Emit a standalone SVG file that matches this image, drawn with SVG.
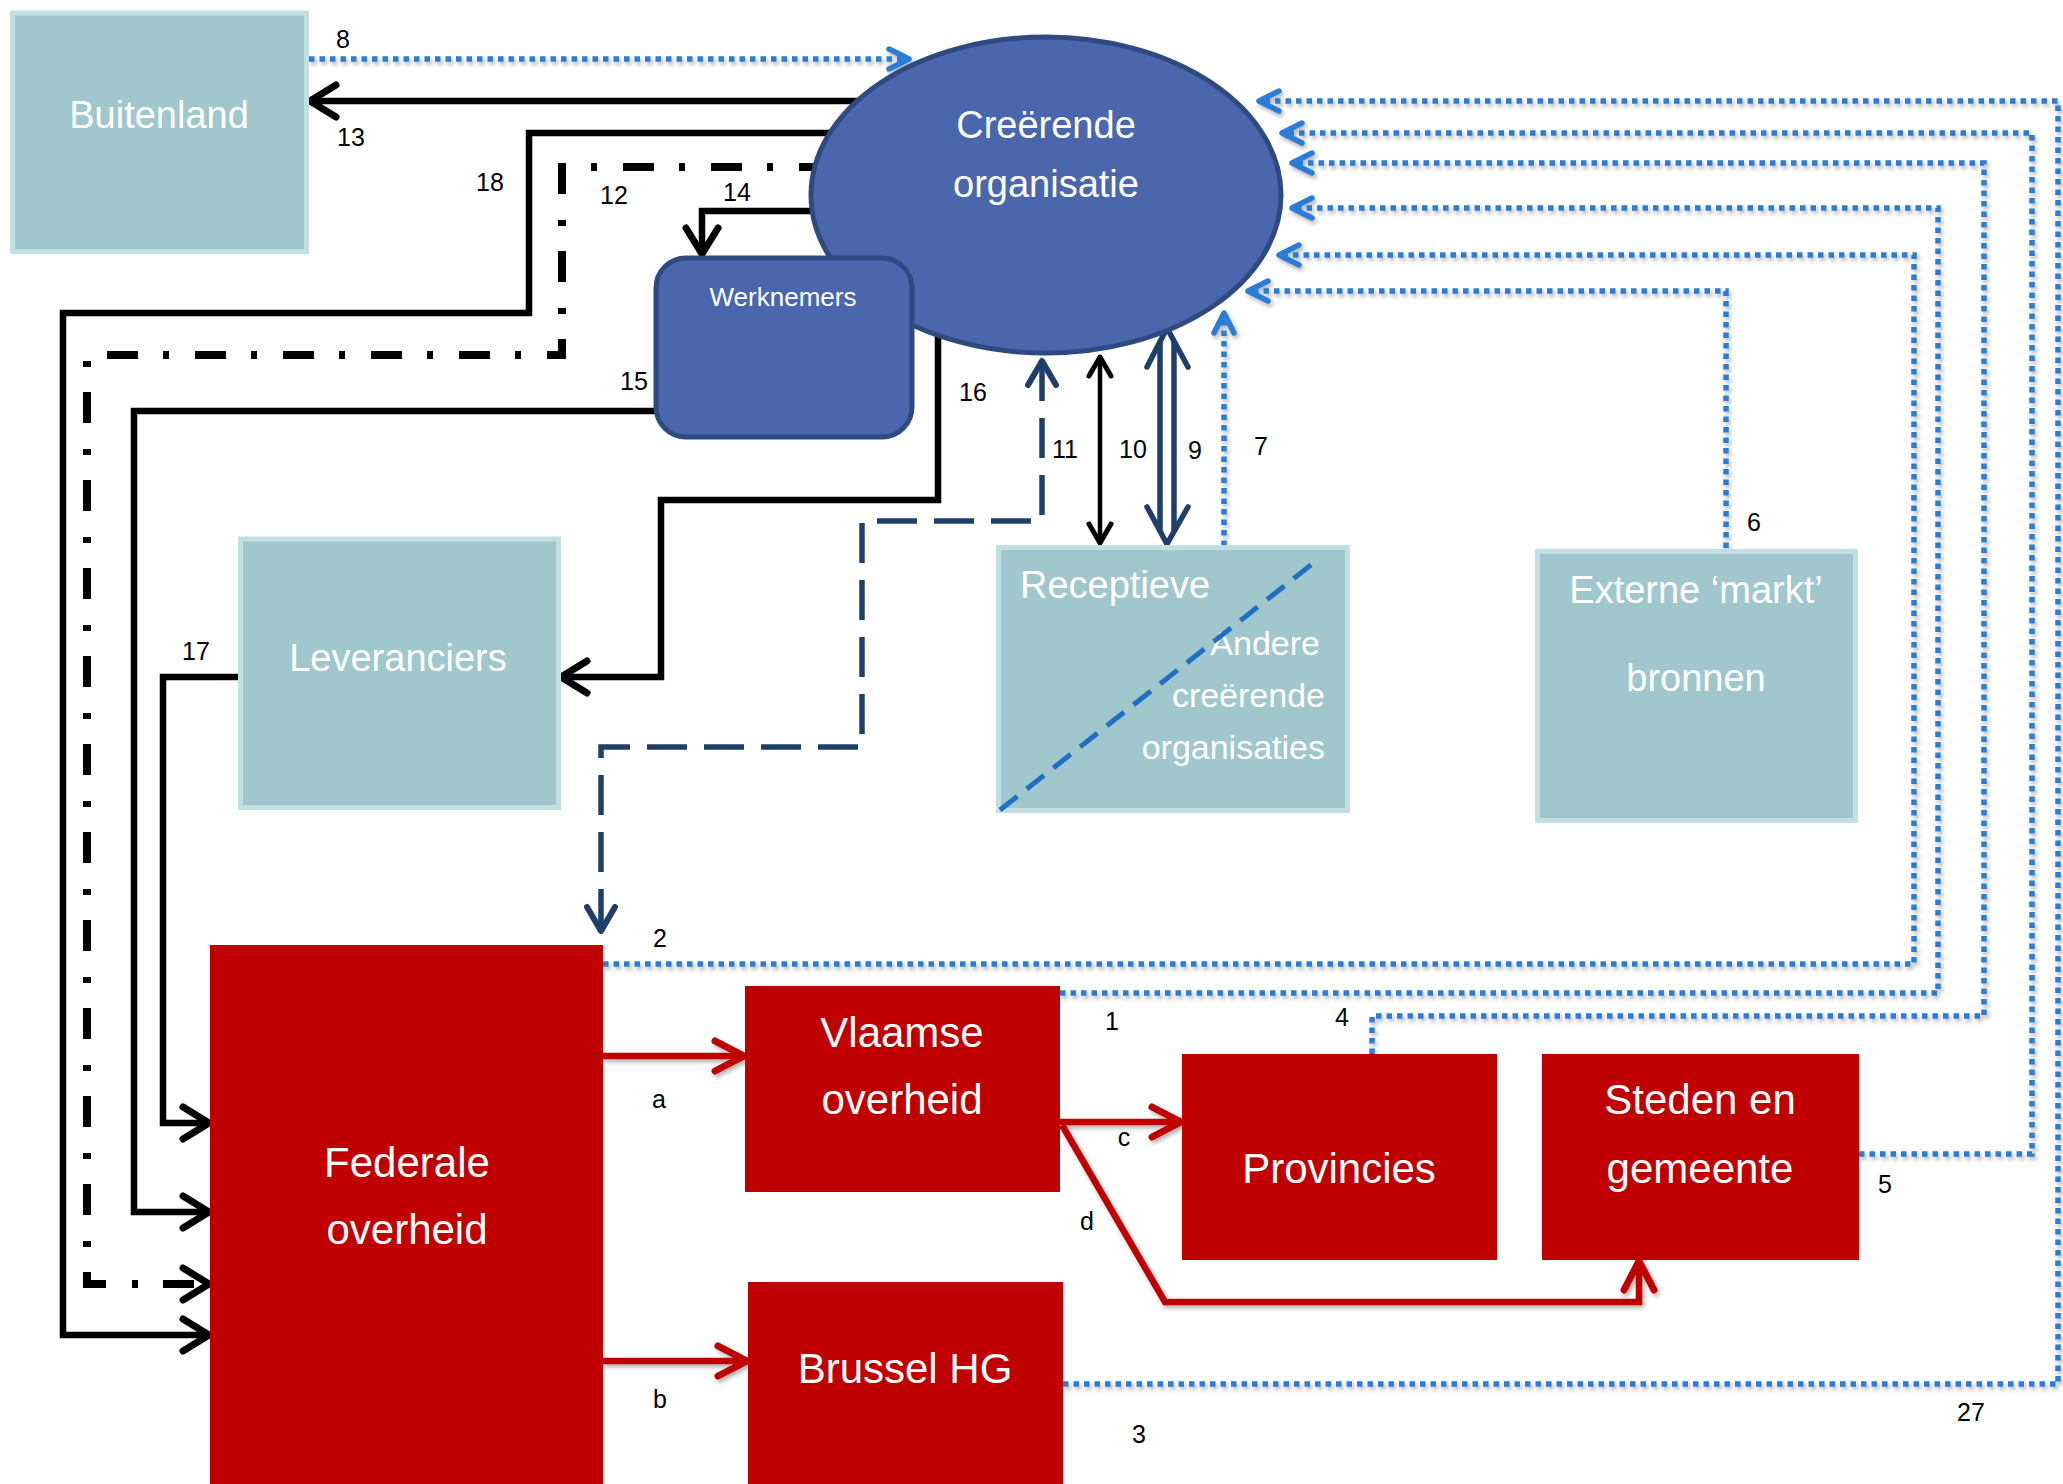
<svg xmlns="http://www.w3.org/2000/svg" width="2063" height="1484" viewBox="0 0 2063 1484">
<style>
.lbl{font-family:"Liberation Sans",Arial,sans-serif;font-size:25px;fill:#000;text-anchor:middle}
.tt{font-family:"Liberation Sans",Arial,sans-serif;font-size:38px;fill:#fff;text-anchor:middle}
.rt{font-family:"Liberation Sans",Arial,sans-serif;font-size:42px;fill:#fff;text-anchor:middle}
.teal{fill:#9FC7CD;stroke:#C2DFE3;stroke-width:5}
.red{fill:#C00000}
.blue{fill:#4A67AD;stroke:#2F4A80;stroke-width:5}
.blk{fill:none;stroke:#000;stroke-width:6.5;stroke-linejoin:miter}
.dot{fill:none;stroke:#2B7BD6;stroke-width:5.5;stroke-dasharray:5.5 5;marker-end:url(#mBlue)}
.rl{fill:none;stroke:#C00000;stroke-width:6.5;marker-end:url(#mRed)}
</style>
<defs>
<filter id="sh" filterUnits="userSpaceOnUse" x="0" y="0" width="2063" height="1484">
<feDropShadow dx="2" dy="3" stdDeviation="2" flood-color="#000" flood-opacity="0.3"/>
</filter>
<marker id="mBlk" markerUnits="userSpaceOnUse" orient="auto-start-reverse" refX="0" refY="0" markerWidth="60" markerHeight="60" viewBox="-40 -30 60 60" overflow="visible">
<path d="M-26,-16 L0,0 L-26,16" fill="none" stroke="#000" stroke-width="7" stroke-linecap="round" stroke-linejoin="round"/>
</marker>
<marker id="mBlkS" markerUnits="userSpaceOnUse" orient="auto-start-reverse" refX="0" refY="0" markerWidth="60" markerHeight="60" viewBox="-40 -30 60 60" overflow="visible">
<path d="M-19,-11 L0,0 L-19,11" fill="none" stroke="#000" stroke-width="5" stroke-linecap="round" stroke-linejoin="round"/>
</marker>
<marker id="mNavy" markerUnits="userSpaceOnUse" orient="auto-start-reverse" refX="0" refY="0" markerWidth="60" markerHeight="60" viewBox="-40 -30 60 60" overflow="visible">
<path d="M-24,-14 L0,0 L-24,14" fill="none" stroke="#1F3F6B" stroke-width="6" stroke-linecap="round" stroke-linejoin="round"/>
</marker>
<marker id="mBlue" markerUnits="userSpaceOnUse" orient="auto" refX="0" refY="0" markerWidth="60" markerHeight="60" viewBox="-40 -30 60 60" overflow="visible">
<path d="M-20,-10 L0,0 L-20,10" fill="none" stroke="#2B7BD6" stroke-width="5.5" stroke-linecap="round" stroke-linejoin="round"/>
</marker>
<marker id="mRed" markerUnits="userSpaceOnUse" orient="auto" refX="0" refY="0" markerWidth="60" markerHeight="60" viewBox="-40 -30 60 60" overflow="visible">
<path d="M-29,-15 L0,0 L-29,15" fill="none" stroke="#C00000" stroke-width="7" stroke-linecap="round" stroke-linejoin="round"/>
</marker>
</defs>
<rect x="0" y="0" width="2063" height="1484" fill="#fff"/>

<g id="connectors">
<g id="blue-dotted" filter="url(#sh)">
<path id="c8" class="dot" d="M309,59 H909"/>
<path id="c27" class="dot" d="M1063,1384 H2058 V101 H1259"/>
<path id="c5" class="dot" d="M1859,1154 H2032 V133 H1282"/>
<path id="c4" class="dot" d="M1372,1054 V1016 H1984 V163 H1292"/>
<path id="c1" class="dot" d="M1060,993 H1938 V208 H1292"/>
<path id="c2" class="dot" d="M603,964 H1914 V255 H1279"/>
<path id="c6" class="dot" d="M1726,548 V291 H1248"/>
<path id="c7" class="dot" d="M1224,546 V313"/>
</g>
<g id="red-lines" filter="url(#sh)">
<path id="ca" class="rl" d="M603,1056 H744"/>
<path id="cb" class="rl" d="M603,1361 H747"/>
<path id="cc" class="rl" d="M1060,1122 H1181"/>
<path id="cd" class="rl" d="M1062,1125 L1165,1302 H1639 V1261"/>
</g>
<path id="c13" class="blk" d="M870,101 H310" marker-end="url(#mBlk)"/>
<path id="c18" class="blk" d="M850,133 H529 V313 H63 V1335 H209" marker-end="url(#mBlk)"/>
<path id="c12" d="M830,167 H562 V355 H87 V1284 H209" fill="none" stroke="#000" stroke-width="8" stroke-dasharray="31 26 6 25" marker-end="url(#mBlk)"/>
<path id="c14" class="blk" d="M830,211 H702 V254" marker-end="url(#mBlk)"/>
<path id="c15" class="blk" d="M660,411 H134 V1212 H209" marker-end="url(#mBlk)"/>
<path id="c17" class="blk" d="M240,677 H163 V1123 H209" marker-end="url(#mBlk)"/>
<path id="c16" class="blk" d="M938,330 V500 H661 V677 H561" marker-end="url(#mBlk)"/>
<path id="c10" d="M1100,357 V543" fill="none" stroke="#000" stroke-width="4.5" marker-start="url(#mBlkS)" marker-end="url(#mBlkS)"/>
<path id="c11" d="M1042,361 V521 H862 V747 H601 V931" fill="none" stroke="#1F3F6B" stroke-width="5.5" stroke-dasharray="40 17" marker-start="url(#mNavy)" marker-end="url(#mNavy)"/>
<g id="c9" fill="none" stroke="#1F3F6B" stroke-width="5.5" stroke-linecap="round" stroke-linejoin="round">
<path d="M1147,367 L1167,328 L1188,367"/>
<path d="M1147,507 L1167,544 L1188,507"/>
<path d="M1160,342 V531 M1174,342 V531" stroke-linecap="butt"/>
</g>
<g id="labels">
<text class="lbl" x="343" y="48">8</text>
<text class="lbl" x="351" y="146">13</text>
<text class="lbl" x="490" y="191">18</text>
<text class="lbl" x="614" y="204">12</text>
<text class="lbl" x="737" y="201">14</text>
<text class="lbl" x="634" y="390">15</text>
<text class="lbl" x="973" y="401">16</text>
<text class="lbl" x="196" y="660">17</text>
<text class="lbl" x="1065" y="458">11</text>
<text class="lbl" x="1133" y="458">10</text>
<text class="lbl" x="1195" y="459">9</text>
<text class="lbl" x="1261" y="455">7</text>
<text class="lbl" x="1754" y="531">6</text>
<text class="lbl" x="660" y="947">2</text>
<text class="lbl" x="1112" y="1030">1</text>
<text class="lbl" x="1342" y="1026">4</text>
<text class="lbl" x="1885" y="1193">5</text>
<text class="lbl" x="1139" y="1443">3</text>
<text class="lbl" x="1971" y="1421">27</text>
<text class="lbl" x="659" y="1108">a</text>
<text class="lbl" x="660" y="1408">b</text>
<text class="lbl" x="1124" y="1146">c</text>
<text class="lbl" x="1087" y="1230">d</text>
</g>
</g>

<g id="buitenland">
<rect class="teal" x="12.5" y="13" width="294" height="238.5"/>
<text class="tt" x="159" y="128">Buitenland</text>
</g>
<g id="creerende-organisatie">
<ellipse class="blue" cx="1046" cy="195" rx="235" ry="158"/>
<text class="tt" x="1046" y="138">Creërende</text>
<text class="tt" x="1046" y="197">organisatie</text>
</g>
<g id="werknemers">
<rect class="blue" x="656" y="258" width="256" height="179" rx="30" ry="30"/>
<text class="tt" x="783" y="306" style="font-size:26px">Werknemers</text>
</g>
<g id="leveranciers">
<rect class="teal" x="240.5" y="539" width="318" height="268.5"/>
<text class="tt" x="398" y="671">Leveranciers</text>
</g>
<g id="receptieve">
<rect class="teal" x="998.5" y="547.5" width="349" height="263"/>
<text class="tt" x="1020" y="598" style="text-anchor:start">Receptieve</text>
<text class="tt" x="1320" y="655" style="text-anchor:end;font-size:34px">Andere</text>
<text class="tt" x="1325" y="707" style="text-anchor:end;font-size:34px">creërende</text>
<text class="tt" x="1325" y="759" style="text-anchor:end;font-size:34px">organisaties</text>
<path d="M1000,810 L1316,561" fill="none" stroke="#1F6FC5" stroke-width="5" stroke-dasharray="22 12"/>
</g>
<g id="externe-markt">
<rect class="teal" x="1537.5" y="551.5" width="318" height="269"/>
<text class="tt" x="1696" y="603">Externe ‘markt’</text>
<text class="tt" x="1696" y="691">bronnen</text>
</g>
<g id="federale-overheid">
<rect class="red" x="210" y="945" width="393" height="539"/>
<text class="rt" x="407" y="1177">Federale</text>
<text class="rt" x="407" y="1244">overheid</text>
</g>
<g id="vlaamse-overheid">
<rect class="red" x="745" y="986" width="315" height="206"/>
<text class="rt" x="902" y="1047">Vlaamse</text>
<text class="rt" x="902" y="1114">overheid</text>
</g>
<g id="brussel-hg">
<rect class="red" x="748" y="1282" width="315" height="202"/>
<text class="rt" x="905" y="1383">Brussel HG</text>
</g>
<g id="provincies">
<rect class="red" x="1182" y="1054" width="315" height="206"/>
<text class="rt" x="1339" y="1183">Provincies</text>
</g>
<g id="steden-en-gemeente">
<rect class="red" x="1542" y="1054" width="317" height="206"/>
<text class="rt" x="1700" y="1114">Steden en</text>
<text class="rt" x="1700" y="1183">gemeente</text>
</g>
</svg>
